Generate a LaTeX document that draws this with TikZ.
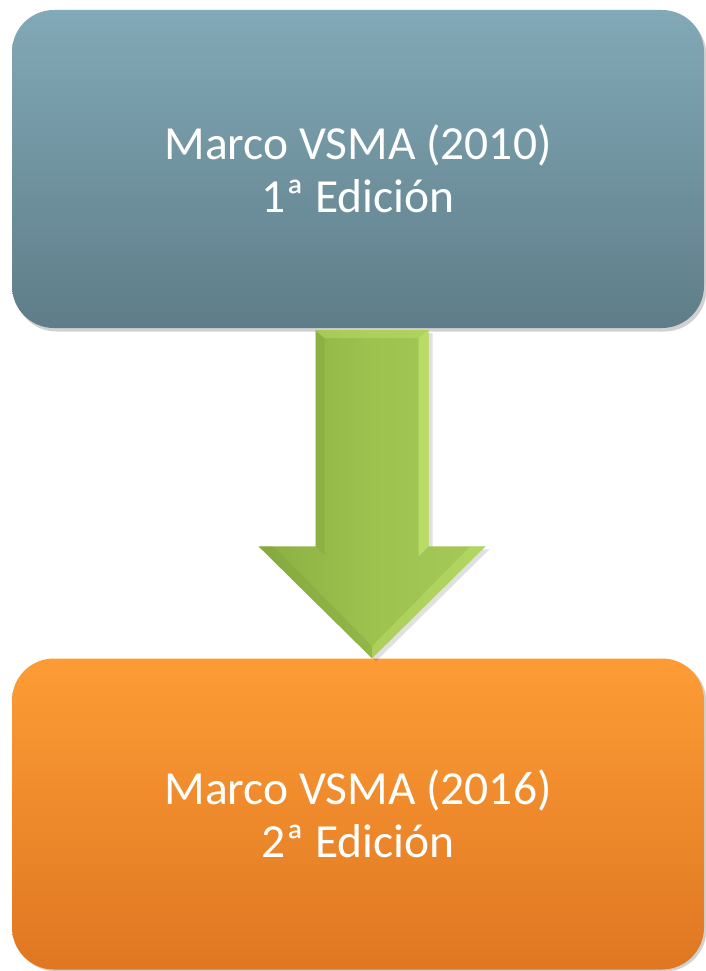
\documentclass[tikz,border=0pt]{standalone}
\usepackage{fontspec}
\setmainfont{Carlito}
\usetikzlibrary{calc}
\definecolor{blueTop}{HTML}{82A9B7}
\definecolor{blueBot}{HTML}{5E7D88}
\definecolor{orTop}{HTML}{FD9C35}
\definecolor{orBot}{HTML}{DF7722}
\definecolor{grL}{HTML}{8AAF42}
\definecolor{grM}{HTML}{9DC24E}
\definecolor{grR}{HTML}{A6CA58}
\definecolor{grHi}{HTML}{C8EC74}
\definecolor{grDk}{HTML}{7A9D38}
\begin{document}
\begin{tikzpicture}[x=1pt,y=-1pt]
\useasboundingbox (0,0) rectangle (706,971);
\tikzset{
  box/.style={minimum width=692pt, rounded corners=42pt, text=white,
    font=\fontsize{47.5}{53}\selectfont, align=center, inner sep=0pt},
  boxshadow/.style={box, fill=black, fill opacity=0.18, text opacity=0}
}
% shadows
\node[boxshadow, minimum height=318pt] (topsh) at (360.5,172.5) {};
\node[boxshadow, minimum height=311pt] (botsh) at (360.5,816) {};
% boxes
\node[box, minimum height=318pt, top color=blueTop, bottom color=blueBot] (top) at (358,169)
  {Marco VSMA (2010)\\1ª Edición};
\node[box, minimum height=311pt, top color=orTop, bottom color=orBot] (bot) at (358,814)
  {Marco VSMA (2016)\\2ª Edición};
% arrow connector
\coordinate (a) at ($(top.south)+(14,2)$);
\coordinate (t) at ($(bot.north)+(14,0)$);
\coordinate (sl) at ($(a)+(-56.5,0)$);
\coordinate (sr) at ($(a)+(56.5,0)$);
\coordinate (hl) at ($(t)+(-113.5,-112)$);
\coordinate (hr) at ($(t)+(113.5,-112)$);
\coordinate (ml) at ($(t)+(-56.5,-112)$);
\coordinate (mr) at ($(t)+(56.5,-112)$);
\fill[black, opacity=0.12] ($(sl)+(4,3)$) -- ($(ml)+(4,3)$) -- ($(hl)+(4,3)$) -- ($(t)+(4,3)$) -- ($(hr)+(4,3)$) -- ($(mr)+(4,3)$) -- ($(sr)+(4,3)$) -- cycle;
\shade[left color=grL, right color=grR, middle color=grM] (sl) -- (ml) -- (hl) -- (t) -- (hr) -- (mr) -- (sr) -- cycle;
% bevels
\fill[grHi, opacity=0.6] ($(sr)+(-10,8)$) -- ($(sr)+(0,0)$) -- (mr) -- ($(mr)+(-10,10)$) -- cycle;
\fill[grDk, opacity=0.3] (sl) -- ($(sl)+(9,8)$) -- ($(ml)+(9,9)$) -- (ml) -- cycle;
\fill[grHi, opacity=0.35] (hr) -- ($(hr)+(-15,0)$) -- ($(t)+(0,-12)$) -- (t) -- cycle;
\fill[grDk, opacity=0.3] (hl) -- ($(hl)+(15,0)$) -- ($(t)+(0,-12)$) -- (t) -- cycle;
\fill[grHi, opacity=0.35] (sl) -- (sr) -- ($(sr)+(-10,8)$) -- ($(sl)+(9,8)$) -- cycle;
\end{tikzpicture}
\end{document}
